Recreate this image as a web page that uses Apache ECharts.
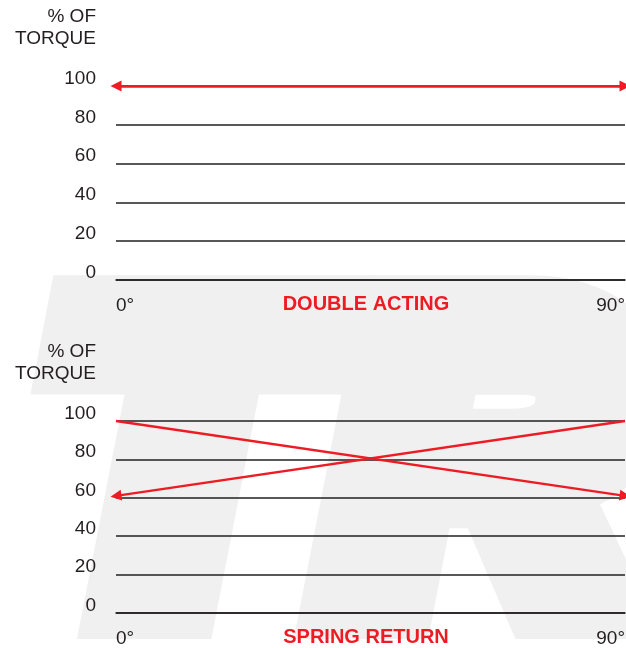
<!DOCTYPE html>
<html>
<head>
<meta charset="utf-8">
<script src="https://cdn.jsdelivr.net/npm/echarts@6/dist/echarts.min.js"></script>
<style>
html,body{margin:0;padding:0;background:#fff;}
#chart{width:626px;height:648px;}
</style>
</head>
<body>
<div id="chart"></div>
<script>
// ---- data ----
const angles = [0, 90];
const angleLabels = ['0°', '90°'];
const torqueTicks = [0, 20, 40, 60, 80, 100];
const doubleActing = [100, 100];          // torque at 0° and 90°
const springStroke = [100, 61];           // spring stroke: 0° -> 90°
const airStroke = [61, 100];              // air stroke: torque at 0° and 90° (drawn 90° -> 0°)
const chartTitles = ['DOUBLE ACTING', 'SPRING RETURN'];
const axisName = '% OF\nTORQUE';

const BLACK = '#231f20';
const RED = '#ed1c24';
const WM = '#f0f0f0';
const FONT = 'Liberation Sans';

function yAxisCfg(gridIndex) {
  return {
    type: 'value', gridIndex: gridIndex,
    min: torqueTicks[0], max: torqueTicks[torqueTicks.length - 1],
    interval: torqueTicks[1] - torqueTicks[0],
    name: axisName, nameLocation: 'end', nameGap: 58,
    nameTextStyle: { fontFamily: FONT, fontSize: 19, color: BLACK, align: 'right',
      verticalAlign: 'middle', lineHeight: 22, padding: [0, 20, 0, 0] },
    axisLine: { show: false }, axisTick: { show: false },
    axisLabel: { fontFamily: FONT, fontSize: 19, color: BLACK, margin: 20,
      verticalAlign: 'bottom', lineHeight: 15 },
    splitLine: { show: true, lineStyle: { color: BLACK, width: 1.5 } }
  };
}
function xAxisCfg(gridIndex, title) {
  return {
    type: 'value', gridIndex: gridIndex,
    min: angles[0], max: angles[1], interval: angles[1] - angles[0],
    name: title, nameLocation: 'middle', nameGap: 24, nameMoveOverlap: false,
    nameTextStyle: { fontFamily: FONT, fontSize: 20, fontWeight: 'bold', color: RED,
      verticalAlign: 'middle', padding: [0, 9, 0, 0] },
    axisLine: { show: true, lineStyle: { color: BLACK, width: 1.5 } },
    axisTick: { show: false },
    splitLine: { show: false },
    axisLabel: { fontFamily: FONT, fontSize: 19, color: BLACK, margin: 16,
      alignMinLabel: 'left', alignMaxLabel: 'right',
      formatter: function (v) { const i = angles.indexOf(v); return i >= 0 ? angleLabels[i] : ''; } }
  };
}
function arrowLine(gridIndex, from, to, symbols) {
  return {
    type: 'line', xAxisIndex: gridIndex, yAxisIndex: gridIndex,
    data: [], silent: true, z: 5,
    markLine: {
      silent: true, animation: false,
      symbol: symbols, symbolSize: 11,
      label: { show: false },
      emphasis: { disabled: true },
      lineStyle: { color: RED, width: 2.5, type: 'solid', opacity: 1 },
      itemStyle: { color: RED },
      data: [[{ coord: from }, { coord: to }]]
    }
  };
}
function wmText(ch, x) {
  return {
    type: 'text', z: -10, silent: true, x: x, y: 486,
    style: {
      text: ch, fill: WM, stroke: WM, lineWidth: 72, lineJoin: 'miter', miterLimit: 4,
      font: 'italic bold 424px "Liberation Sans"',
      textAlign: 'left', textVerticalAlign: 'middle'
    }
  };
}

const chart = echarts.init(document.getElementById('chart'), null, { renderer: 'canvas' });
chart.setOption({
  backgroundColor: '#ffffff',
  animation: false,
  graphic: [wmText('T', 44), wmText('R', 330)],
  grid: [
    { left: 116, right: 1, top: 86, height: 194, outerBoundsMode: 'none', containLabel: false },
    { left: 116, right: 1, top: 421, height: 192, outerBoundsMode: 'none', containLabel: false }
  ],
  xAxis: [xAxisCfg(0, chartTitles[0]), xAxisCfg(1, chartTitles[1])],
  yAxis: [yAxisCfg(0), yAxisCfg(1)],
  series: [
    arrowLine(0, [angles[0], doubleActing[0]], [angles[1], doubleActing[1]], ['triangle', 'triangle']),
    arrowLine(1, [angles[0], springStroke[0]], [angles[1], springStroke[1]], ['none', 'triangle']),
    arrowLine(1, [angles[1], airStroke[1]], [angles[0], airStroke[0]], ['none', 'triangle'])
  ]
});
</script>
</body>
</html>
